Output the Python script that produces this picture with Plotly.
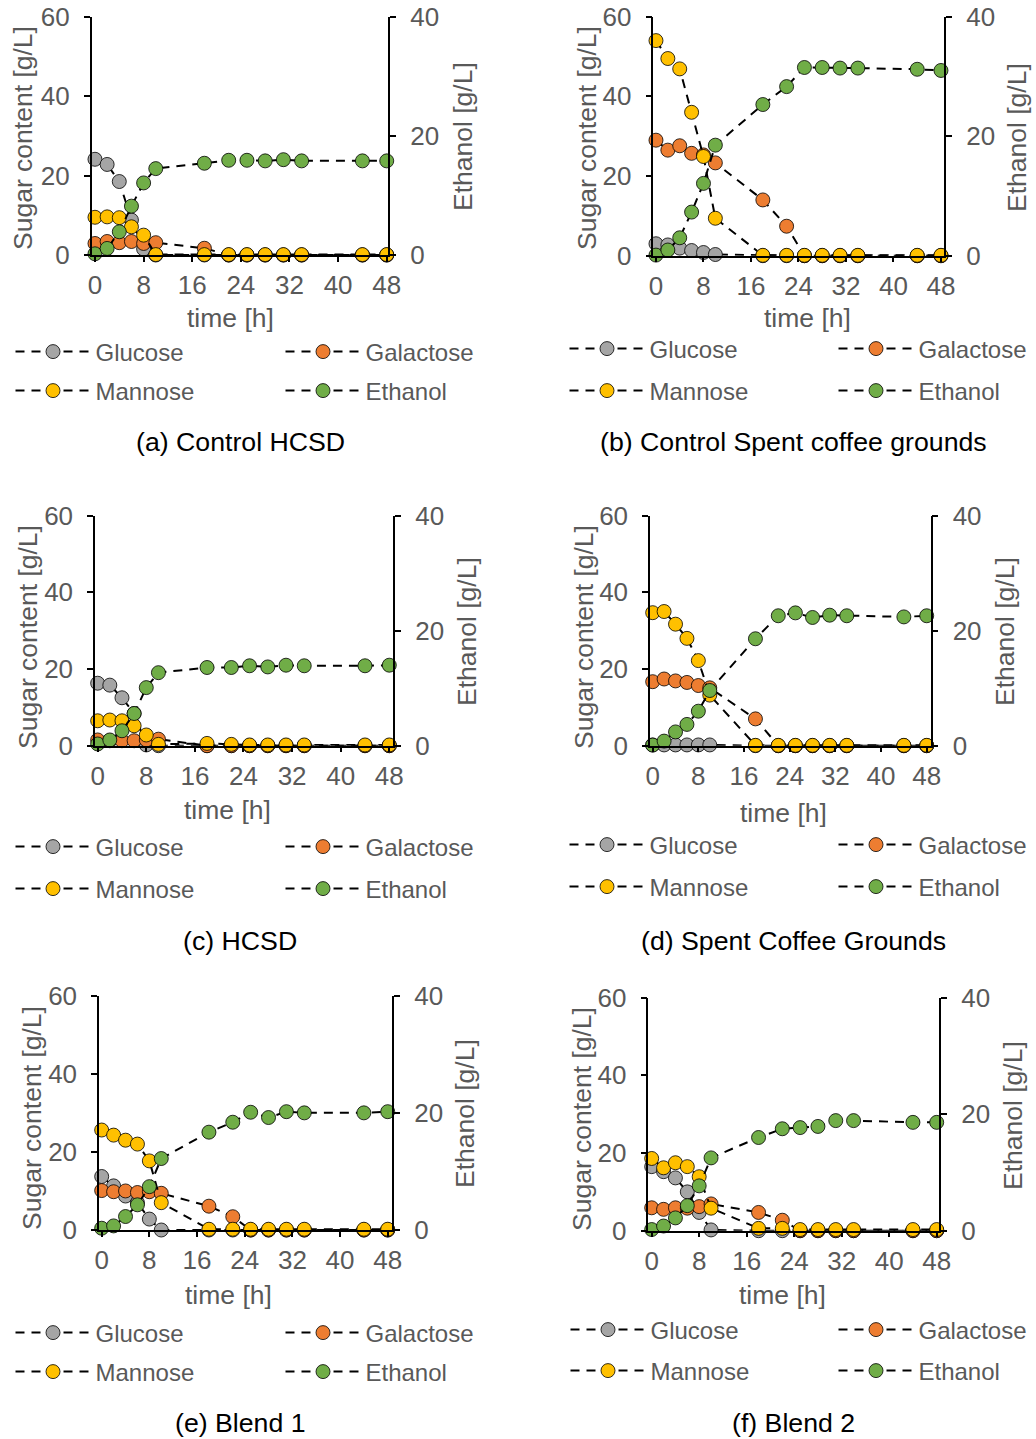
import plotly.graph_objects as go

# ---------------- data ----------------
time_h = [0, 2, 4, 6, 8, 10, 18, 22, 25, 28, 31, 34, 44, 48]
series_names = ["Glucose", "Galactose", "Mannose", "Ethanol"]
series_colors = ["#A5A5A5", "#ED7D31", "#FFC000", "#70AD47"]
x_ticks = [0, 8, 16, 24, 32, 40, 48]
sugar_ticks = [0, 20, 40, 60]
ethanol_ticks = [0, 20, 40]

# (a) Control HCSD
glucose_a = [24.1, 22.8, 18.5, 8.8, 1.5, 0, 0, 0, 0, 0, 0, 0, 0, 0]
galactose_a = [2.9, 3.4, 3.1, 3.4, 2.9, 3.1, 1.7, 0, 0, 0, 0, 0, 0, 0]
mannose_a = [9.5, 9.6, 9.4, 7.1, 5.0, 0.1, 0.1, 0.1, 0.1, 0.1, 0.1, 0.1, 0.1, 0.1]
ethanol_a = [0.2, 1.1, 3.9, 8.2, 12.1, 14.5, 15.4, 15.9, 15.9, 15.8, 16.0, 15.8, 15.8, 15.8]

# (b) Control Spent coffee grounds
glucose_b = [3.0, 2.7, 1.9, 1.3, 0.8, 0.3, 0, 0, 0, 0, 0, 0, 0, 0]
galactose_b = [29.0, 26.5, 27.6, 25.7, 25.3, 23.3, 14.0, 7.4, 0, 0, 0, 0, 0, 0]
mannose_b = [54.0, 49.5, 46.9, 36.0, 24.9, 9.4, 0.1, 0.1, 0.1, 0.1, 0.1, 0.1, 0.1, 0.1]
ethanol_b = [0.1, 0.95, 3.0, 7.3, 12.1, 18.5, 25.3, 28.3, 31.5, 31.5, 31.4, 31.4, 31.2, 31.0]

# (c) HCSD
glucose_c = [16.3, 15.8, 12.5, 8.4, 0.2, 0, 0, 0, 0, 0, 0, 0, 0, 0]
galactose_c = [1.5, 1.3, 1.3, 1.3, 1.5, 1.7, 0, 0, 0, 0, 0, 0, 0, 0]
mannose_c = [6.5, 6.7, 6.5, 5.2, 2.8, 0.35, 0.6, 0.35, 0.2, 0.2, 0.2, 0.2, 0.2, 0.2]
ethanol_c = [0.3, 1.0, 2.6, 5.6, 10.1, 12.7, 13.6, 13.6, 13.9, 13.7, 14.0, 13.9, 13.9, 14.0]

# (d) Spent Coffee Grounds
glucose_d = [0.2, 0.2, 0.2, 0.2, 0.2, 0.2, 0, 0, 0, 0, 0, 0, 0, 0]
galactose_d = [16.7, 17.4, 16.9, 16.5, 15.7, 15.1, 7.0, 0, 0, 0, 0, 0, 0, 0]
mannose_d = [34.7, 35.0, 31.7, 28.0, 22.2, 13.2, 0.1, 0.1, 0.1, 0.1, 0.1, 0.1, 0.1, 0.1]
ethanol_d = [0.1, 0.8, 2.4, 3.7, 6.0, 9.6, 18.6, 22.6, 23.1, 22.3, 22.7, 22.6, 22.4, 22.6]

# (e) Blend 1
glucose_e = [13.7, 11.3, 8.7, 7.0, 2.8, 0, 0, 0, 0, 0, 0, 0, 0, 0]
galactose_e = [10.1, 9.8, 10.0, 9.6, 9.8, 9.4, 6.1, 3.4, 0, 0, 0, 0, 0, 0]
mannose_e = [25.6, 24.3, 23.0, 22.0, 17.7, 7.0, 0.2, 0.2, 0.2, 0.2, 0.2, 0.2, 0.2, 0.2]
ethanol_e = [0.3, 0.7, 2.3, 4.3, 7.4, 12.2, 16.7, 18.4, 20.1, 19.2, 20.2, 20.0, 20.0, 20.2]

# (f) Blend 2
glucose_f = [16.5, 15.2, 13.6, 10.0, 4.7, 0.2, 0, 0, 0, 0, 0, 0, 0, 0]
galactose_f = [5.9, 5.5, 5.9, 5.8, 6.2, 6.9, 4.7, 2.7, 0, 0, 0, 0, 0, 0]
mannose_f = [18.6, 16.2, 17.5, 16.5, 13.9, 5.8, 0.6, 0.6, 0.3, 0.3, 0.3, 0.3, 0.3, 0.3]
ethanol_f = [0.2, 0.8, 2.2, 4.3, 7.7, 12.5, 16.0, 17.5, 17.7, 17.9, 18.9, 18.9, 18.6, 18.6]

captions = ["(a) Control HCSD", "(b) Control Spent coffee grounds", "(c) HCSD",
            "(d) Spent Coffee Grounds", "(e) Blend 1", "(f) Blend 2"]

panel_data = [
    (glucose_a, galactose_a, mannose_a, ethanol_a),
    (glucose_b, galactose_b, mannose_b, ethanol_b),
    (glucose_c, galactose_c, mannose_c, ethanol_c),
    (glucose_d, galactose_d, mannose_d, ethanol_d),
    (glucose_e, galactose_e, mannose_e, ethanol_e),
    (glucose_f, galactose_f, mannose_f, ethanol_f),
]

# ---------------- layout geometry (pixels) ----------------
W, H = 1036, 1439
# plot area: left line x, right line x, top y, bottom y
areas = [
    (91.7, 388.3, 16.7, 255.0),
    (653.3, 944.3, 16.7, 255.7),
    (95.0, 393.3, 515.7, 745.7),
    (650.0, 930.7, 515.7, 745.7),
    (99.0, 392.3, 995.7, 1230.0),
    (648.3, 939.3, 997.7, 1230.7),
]
x_ranges = [(-0.54, 48.26), (-0.45, 48.56), (-0.44, 48.66),
            (-0.47, 48.7), (-0.45, 48.77), (-0.57, 48.44)]
# axis title positions: (left title x, y), (right title x, y), (time x, y)
titles_pos = [
    ((23, 138), (463, 137), (230, 318)),
    ((587, 138), (1017, 138), (807, 318)),
    ((28, 637), (467, 632), (227, 810)),
    ((584, 637), (1005, 632), (783, 813)),
    ((32, 1118), (465, 1114), (228, 1295)),
    ((582, 1119), (1013, 1116), (782, 1295)),
]
# legend rows (y centre) and marker centre x of left / right column
legend_rows = [(352, 391), (349, 391), (847, 889), (845, 887), (1333, 1372), (1330, 1371)]
legend_cols = [(53, 323), (607, 876), (53, 323), (607, 876), (53, 323), (608, 876)]
caption_pos = [(240, 442), (793, 442), (240, 941), (793, 941), (240, 1423), (793, 1423)]

GRAY = "#595959"
FONT = "Liberation Sans, Arial, sans-serif"
ITEMW = 75

def fx(v):
    return v / W

def fy(v):
    return 1 - v / H

fig = go.Figure()
layout = {}
annotations = []
leg_count = 0

for k in range(1, 7):
    i = k - 1
    xl, xr, yt, yb = areas[i]
    xname = "x" if k == 1 else f"x{k}"
    yl_n, yr_n = 2 * k - 1, 2 * k
    yl_name = "y" if yl_n == 1 else f"y{yl_n}"
    yr_name = f"y{yr_n}"

    for j, (name, color, vals) in enumerate(zip(series_names, series_colors, panel_data[i])):
        leg_count += 1
        lname = "legend" if leg_count == 1 else f"legend{leg_count}"
        fig.add_trace(go.Scatter(
            x=time_h, y=vals, name=name, mode="lines+markers",
            xaxis=xname, yaxis=(yr_name if j == 3 else yl_name),
            line=dict(color="black", width=2, dash="9px,7px"),
            marker=dict(size=14, color=color, line=dict(color="black", width=0.8)),
            cliponaxis=False,
            legend=lname,
            showlegend=True,
        ))
        row_y = legend_rows[i][j // 2]
        col_x = legend_cols[i][j % 2]
        layout[lname] = dict(
            orientation="h", x=fx(col_x - 42.5), y=fy(row_y), xanchor="left", yanchor="middle",
            font=dict(size=24, color=GRAY, family=FONT), bgcolor="rgba(0,0,0,0)",
            itemwidth=ITEMW, itemclick=False, itemdoubleclick=False, borderwidth=0,
        )

    axis_common = dict(showline=True, linecolor="black", linewidth=1.5, ticks="outside",
                       tickcolor="black", tickwidth=1.5, showgrid=False, zeroline=False,
                       tickfont=dict(size=26, color=GRAY, family=FONT), fixedrange=True)
    layout["xaxis" if k == 1 else f"xaxis{k}"] = dict(
        domain=[fx(xl), fx(xr)], range=list(x_ranges[i]), anchor=yl_name,
        tickvals=x_ticks, ticklen=5, ticklabelstandoff=1, **axis_common)
    layout["yaxis" if yl_n == 1 else f"yaxis{yl_n}"] = dict(
        domain=[fy(yb), fy(yt)], range=[0, 60], anchor=xname,
        tickvals=sugar_ticks, ticklen=6, ticklabelstandoff=9, **axis_common)
    layout[f"yaxis{yr_n}"] = dict(
        range=[0, 40], anchor=xname, overlaying=yl_name, side="right",
        tickvals=ethanol_ticks, ticklen=6, ticklabelstandoff=9, **axis_common)

    (ltx, lty), (rtx, rty), (ttx, tty) = titles_pos[i]
    annotations.append(dict(text="Sugar content [g/L]", x=fx(ltx), y=fy(lty), xref="paper", yref="paper",
                            showarrow=False, textangle=-90, xanchor="center", yanchor="middle",
                            font=dict(size=26.5, color=GRAY, family=FONT)))
    annotations.append(dict(text="Ethanol [g/L]", x=fx(rtx), y=fy(rty), xref="paper", yref="paper",
                            showarrow=False, textangle=-90, xanchor="center", yanchor="middle",
                            font=dict(size=26.5, color=GRAY, family=FONT)))
    annotations.append(dict(text="time [h]", x=fx(ttx), y=fy(tty), xref="paper", yref="paper",
                            showarrow=False, xanchor="center", yanchor="middle",
                            font=dict(size=26.5, color=GRAY, family=FONT)))
    cx, cy = caption_pos[i]
    annotations.append(dict(text=captions[i], x=fx(cx), y=fy(cy), xref="paper", yref="paper",
                            showarrow=False, xanchor="center", yanchor="middle",
                            font=dict(size=26.7, color="black", family=FONT)))

fig.update_layout(
    width=W, height=H, margin=dict(l=0, r=0, t=0, b=0, autoexpand=False),
    paper_bgcolor="white", plot_bgcolor="white",
    font=dict(family=FONT, color=GRAY),
    annotations=annotations, **layout,
)

fig.write_html("out.html", config={"displayModeBar": False})
